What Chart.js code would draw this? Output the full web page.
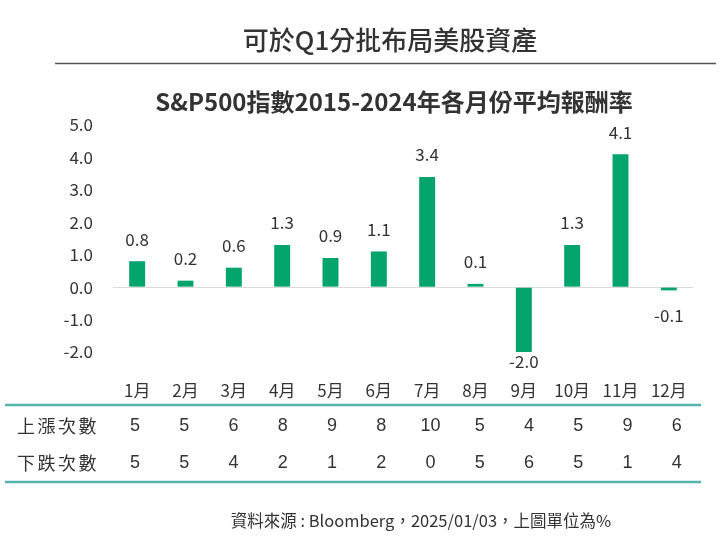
<!DOCTYPE html>
<html><head><meta charset="utf-8">
<script src="https://cdn.jsdelivr.net/npm/chart.js@4"></script>
<style>html,body{margin:0;padding:0;background:#fff;}#wrap{width:725px;height:538px;}</style>
</head><body><div id="wrap"><canvas id="c" width="725" height="538"></canvas></div>
<script>
const months = ['1月','2月','3月','4月','5月','6月','7月','8月','9月','10月','11月','12月'];
const avgReturn = [0.8, 0.2, 0.6, 1.3, 0.9, 1.1, 3.4, 0.1, -2.0, 1.3, 4.1, -0.1];
const upCount = [5, 5, 6, 8, 9, 8, 10, 5, 4, 5, 9, 6];
const downCount = [5, 5, 4, 2, 1, 2, 0, 5, 6, 5, 1, 4];
const rowLabels = ['上漲次數', '下跌次數'];
const yTicks = [5, 4, 3, 2, 1, 0, -1, -2];
const mainTitle = '可於Q1分批布局美股資產';
const subTitle = 'S&P500指數2015-2024年各月份平均報酬率';
const sourceNote = '資料來源 : Bloomberg，2025/01/03，上圖單位為%';

const CJK = '"Noto Sans CJK TC", "Noto Sans", sans-serif';
const GREEN = '#03a56c';
const TEAL = '#55b3ae';
const TXT = '#333333';

const decor = {
  id: 'decor',
  afterDraw(chart) {
    const ctx = chart.ctx;
    const xs = chart.scales.x;
    ctx.save();
    // titles
    ctx.fillStyle = TXT;
    ctx.textAlign = 'center';
    ctx.textBaseline = 'middle';
    ctx.font = '500 26px ' + CJK;
    ctx.fillText(mainTitle, 390, 40);
    ctx.strokeStyle = '#555';
    ctx.lineWidth = 1.5;
    ctx.beginPath(); ctx.moveTo(55, 63.5); ctx.lineTo(716, 63.5); ctx.stroke();
    ctx.font = 'bold 24px ' + CJK;
    ctx.fillText(subTitle, 394, 102);
    // table
    ctx.strokeStyle = TEAL;
    ctx.lineWidth = 2.5;
    ctx.beginPath(); ctx.moveTo(5, 405); ctx.lineTo(701, 405); ctx.stroke();
    ctx.beginPath(); ctx.moveTo(5, 482); ctx.lineTo(701, 482); ctx.stroke();
    ctx.fillStyle = TXT;
    ctx.textAlign = 'left';
    ctx.font = '18px ' + CJK;
    if ('letterSpacing' in ctx) ctx.letterSpacing = '2.5px';
    ctx.fillText(rowLabels[0], 17, 426);
    ctx.fillText(rowLabels[1], 17, 463);
    if ('letterSpacing' in ctx) ctx.letterSpacing = '0px';
    ctx.textAlign = 'center';
    ctx.font = '18px "Liberation Sans", Arial, sans-serif';
    const x0 = xs.getPixelForValue(0);
    for (let i = 0; i < months.length; i++) {
      const xb = xs.getPixelForValue(i);
      const xt = 135 + (xb - x0) * 1.019;
      ctx.fillText(String(upCount[i]), xt, 426);
      ctx.fillText(String(downCount[i]), xt, 463);
    }
    // source
    ctx.font = '16.5px ' + CJK;
    ctx.fillText(sourceNote, 421, 521);
    ctx.restore();
  },
  afterDatasetsDraw(chart) {
    const ctx = chart.ctx;
    const meta = chart.getDatasetMeta(0);
    ctx.save();
    ctx.fillStyle = TXT;
    ctx.textAlign = 'center';
    ctx.textBaseline = 'middle';
    ctx.font = '17px ' + CJK;
    meta.data.forEach((bar, i) => {
      const v = avgReturn[i];
      const y = v >= 0 ? bar.y - 22 : Math.min(bar.y + 25, 362);
      ctx.fillText(v.toFixed(1), bar.x, y);
    });
    ctx.restore();
  }
};

new Chart(document.getElementById('c'), {
  type: 'bar',
  data: {
    labels: months,
    datasets: [{ data: avgReturn, backgroundColor: GREEN, borderWidth: 0,
      barPercentage: 0.33, categoryPercentage: 1.0 }]
  },
  options: {
    responsive: false,
    animation: false,
    devicePixelRatio: 1,
    layout: { padding: { top: 125, left: 0, right: 32, bottom: 0 } },
    plugins: { legend: { display: false }, tooltip: { enabled: false }, title: { display: false } },
    scales: {
      x: {
        grid: { display: false },
        border: { display: false },
        ticks: { color: TXT, font: { size: 17, family: CJK }, padding: 20, maxRotation: 0, autoSkip: false },
        afterFit(s) { s.height = 538 - 352; }
      },
      y: {
        min: -2, max: 5,
        afterBuildTicks(s) { s.ticks = yTicks.map(v => ({ value: v })); },
        afterFit(s) { s.width = 113; },
        border: { display: false },
        grid: {
          drawTicks: false,
          color: c => (c.tick && c.tick.value === 0) ? '#d9d9d9' : 'rgba(0,0,0,0)',
          lineWidth: 1
        },
        ticks: { color: TXT, font: { size: 17, family: CJK }, padding: 20,
          callback: v => Number(v).toFixed(1) }
      }
    }
  },
  plugins: [decor]
});
</script></body></html>
